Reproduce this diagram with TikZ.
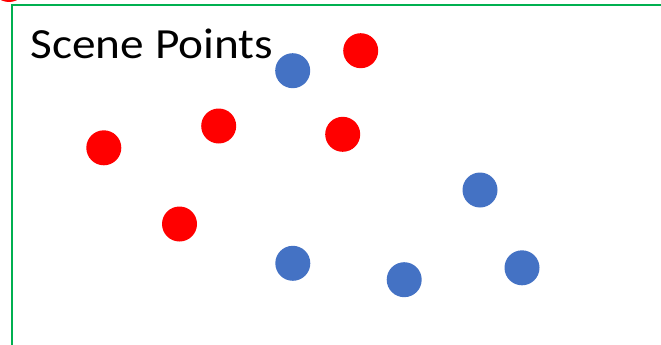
\documentclass[tikz,border=0pt]{standalone}
\usepackage{graphicx}
\usepackage{fontspec}
\setmainfont{Carlito}
\definecolor{ptred}{HTML}{FF0000}
\definecolor{ptblue}{HTML}{4472C4}
\definecolor{framegreen}{HTML}{00B050}
\begin{document}
\begin{tikzpicture}[x=1pt,y=-1pt,
  reddot/.style={circle,fill=ptred,inner sep=0pt,minimum size=35pt},
  bluedot/.style={circle,fill=ptblue,inner sep=0pt,minimum size=35pt},
  frameline/.style={draw=framegreen,line width=2.2pt}]
\useasboundingbox (0,0) rectangle (661,345);
\begin{scope}
\clip (0,0) rectangle (661,345);
\node[reddot] (r0) at (9,-15.5) {};
\end{scope}
\coordinate (fa) at (661,5);
\coordinate (fb) at (11.7,5);
\coordinate (fc) at (11.7,346);
\draw[frameline] (fa) -- (fb) -- (fc);
\node[anchor=base west,inner sep=0pt,font=\fontsize{43}{50}\selectfont] (title) at (30.5,58.3) {\scalebox{1.1}[1]{Scene Points}};
\node[reddot] (r1) at (360.7,50.7) {};
\node[reddot] (r2) at (103.8,147.8) {};
\node[reddot] (r3) at (218.7,126) {};
\node[reddot] (r4) at (342.7,134.3) {};
\node[reddot] (r5) at (179.5,224) {};
\node[bluedot] (b1) at (292.7,70.7) {};
\node[bluedot] (b2) at (292.8,263.3) {};
\node[bluedot] (b3) at (480,190) {};
\node[bluedot] (b4) at (404.2,279.7) {};
\node[bluedot] (b5) at (522,267.8) {};
\end{tikzpicture}
\end{document}
